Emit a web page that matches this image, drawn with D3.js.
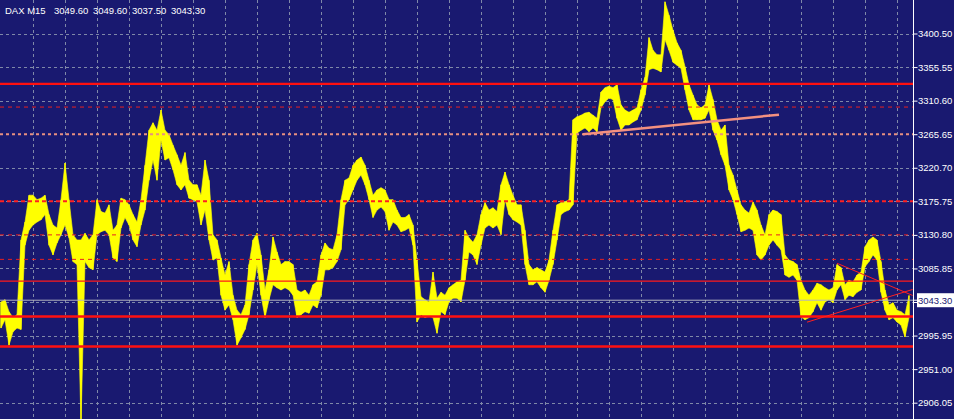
<!DOCTYPE html>
<html><head><meta charset="utf-8">
<script src="https://cdn.jsdelivr.net/npm/d3@7"></script>
<style>html,body{margin:0;padding:0;background:#191970;overflow:hidden}svg{display:block}</style>
</head><body>
<script>
// ---- data ----
const title = "DAX M15";
const ohlc = ["3049.60", "3049.60", "3037.50", "3043.30"];
const lastPrice = 3043.30;
const highs = [3041,3044,3028,3020,3024,3124,3148,3184,3184,3178,3180,3184,3158,3144,3140,3178,3227,3178,3131,3124,
3124,3133,3124,3131,3178,3162,3160,3171,3137,3144,3180,3178,3171,3158,3148,3178,3224,3271,3281,3271,
3298,3271,3265,3251,3238,3224,3241,3204,3198,3198,3184,3231,3204,3131,3124,3100,3077,3095,3050,3030,
3024,3037,3091,3124,3133,3104,3057,3084,3128,3108,3091,3095,3095,3091,3057,3054,3057,3050,3064,3068,
3104,3120,3113,3111,3131,3178,3204,3207,3224,3231,3235,3224,3204,3184,3191,3194,3191,3178,3178,3164,
3154,3154,3158,3144,3097,3048,3044,3041,3081,3046,3054,3050,3060,3064,3068,3070,3137,3127,3121,3131,
3158,3174,3164,3167,3162,3198,3215,3198,3184,3171,3171,3137,3091,3084,3087,3084,3081,3097,3137,3171,
3174,3175,3178,3285,3289,3291,3294,3295,3291,3287,3322,3328,3330,3328,3332,3305,3298,3295,3298,3301,
3325,3342,3395,3378,3372,3372,3443,3425,3405,3388,3378,3356,3332,3318,3305,3301,3305,3332,3312,3285,
3271,3278,3224,3211,3191,3171,3164,3160,3175,3164,3144,3131,3158,3164,3162,3158,3104,3097,3095,3091,
3070,3057,3050,3057,3066,3064,3060,3057,3060,3091,3087,3064,3070,3068,3077,3081,3115,3124,3128,3124,
3095,3057,3037,3040,3030,3028,3024,3049.6];
const lows = [3006,3017,2983,3001,3006,3004,3117,3137,3144,3148,3151,3158,3117,3104,3120,3131,3144,3127,3095,3091,
2870,3095,3087,3084,3131,3135,3137,3131,3100,3095,3140,3154,3144,3124,3115,3144,3164,3204,3231,3204,
3258,3231,3234,3218,3198,3191,3198,3180,3178,3175,3144,3164,3124,3097,3100,3050,3030,3037,3017,2983,
2993,3004,3024,3057,3091,3050,3020,3044,3064,3060,3057,3060,3057,3050,3020,3024,3028,3026,3037,3033,
3050,3084,3084,3087,3095,3111,3171,3178,3191,3204,3211,3198,3178,3154,3164,3168,3162,3137,3148,3144,
3135,3137,3140,3117,3014,3024,3020,3022,3020,2999,3028,3024,3041,3046,3046,3041,3070,3108,3104,3091,
3117,3140,3144,3140,3144,3131,3178,3158,3151,3148,3144,3091,3064,3064,3068,3060,3054,3070,3091,3124,
3158,3162,3164,3171,3267,3271,3274,3269,3274,3269,3301,3309,3314,3312,3287,3271,3278,3278,3282,3285,
3298,3318,3352,3354,3352,3349,3392,3378,3362,3358,3354,3325,3298,3285,3285,3285,3287,3298,3271,3258,
3238,3224,3191,3178,3158,3135,3137,3140,3137,3104,3097,3104,3117,3124,3117,3111,3077,3074,3077,3070,
3021,3017,3020,3028,3040,3030,3041,3044,3040,3057,3064,3044,3050,3048,3054,3057,3088,3095,3104,3097,
3054,3030,3017,3020,3014,3010,2994,3020];
const tickValues = [3400.50,3355.55,3310.60,3265.65,3220.70,3175.75,3130.80,3085.85,3040.90,2995.95,2951.00,2906.05];
const hiddenTicks = [3040.90];
const gridBars = [8,16,24,32,40,48,56,64,72,80,88,96,104,112,120,128,136,144,152,160,168,176,184,192,200,208,216,224];
const solidThick = [3333.0, 3021.5, 2981.4];
const solidThin = [3069.0];
const dashedRed = [3302.0, 3130.80, 3098.0];
const dashedRedBold = [3175.75];
const dashedSalmon = [3265.65];
const trendSalmon = [[145.5, 3265.5], [194.5, 3291.8]];
const trendRed = [ [[209, 3092.8], [227.9, 3049.7]], [[201.5, 3013.9], [227.9, 3057.7]] ];

// ---- drawing ----
const W = 954, H = 419, plotR = 913;
const FONT = "Liberation Sans, Arial, sans-serif";
const svg = d3.select("body").append("svg").attr("width", W).attr("height", H);
svg.append("rect").attr("width", W).attr("height", H).attr("fill", "#191970");

const x = d3.scaleLinear().domain([0, 228]).range([1, plotR]);
const y = d3.scaleLinear().domain([2906.05, 3400.50]).range([402.7, 33.5]);
const gridCol = "#7f88a8";

const grid = svg.append("g");
grid.selectAll(".vg").data(gridBars).join("line")
  .attr("x1", d => Math.round(x(d)) + 0.5).attr("x2", d => Math.round(x(d)) + 0.5)
  .attr("y1", 0).attr("y2", H).attr("stroke", gridCol).attr("stroke-dasharray", "3,3");
grid.selectAll(".hg").data(tickValues).join("line")
  .attr("x1", 0).attr("x2", plotR)
  .attr("y1", d => Math.round(y(d)) + 0.5).attr("y2", d => Math.round(y(d)) + 0.5)
  .attr("stroke", gridCol).attr("stroke-dasharray", "3,3");

// price bars
const bars = highs.map((h, i) => ({i, h, l: lows[i]}));
const pg = svg.append("g");
pg.append("path").datum(bars)
  .attr("d", d3.area().x(d => x(d.i)).y0(d => Math.min(y(d.l), H + 5)).y1(d => y(d.h)))
  .attr("fill", "#ffff00").attr("stroke", "#ffff00").attr("stroke-width", 0.6);
pg.selectAll("line").data(bars).join("line")
  .attr("x1", d => x(d.i)).attr("x2", d => x(d.i))
  .attr("y1", d => y(d.h)).attr("y2", d => Math.min(y(d.l), H + 5))
  .attr("stroke", "#ffff00").attr("stroke-width", 1.2);

// horizontal objects
const hl = (vals, col, w, dash) => svg.append("g").selectAll("line").data(vals).join("line")
  .attr("x1", 0).attr("x2", plotR)
  .attr("y1", d => y(d)).attr("y2", d => y(d))
  .attr("stroke", col).attr("stroke-width", w).attr("stroke-dasharray", dash);
hl([lastPrice], "#b4b4c0", 1, null);
hl(dashedSalmon, "#e89080", 2, "3,3");
hl(dashedRed, "#e82020", 1, "4,4");
hl(dashedRedBold, "#ff2020", 2, "4,3");
hl(solidThin, "#ff1a1a", 1.2, null);
hl(solidThick, "#ff1010", 2.4, null);

// trend lines
const tl = d3.line().x(d => x(d[0])).y(d => y(d[1]));
svg.append("path").datum(trendSalmon).attr("d", tl).attr("stroke", "#f49080").attr("stroke-width", 2.5).attr("fill", "none");
svg.append("g").selectAll("path").data(trendRed).join("path").attr("d", tl)
  .attr("stroke", "#ff2020").attr("stroke-width", 1).attr("fill", "none");

// right axis area
svg.append("rect").attr("x", plotR + 1).attr("y", 0).attr("width", W - plotR).attr("height", H).attr("fill", "#191970");
const axis = d3.axisRight(y).tickValues(tickValues).tickSize(4).tickPadding(0.5)
  .tickFormat(d => hiddenTicks.includes(d) ? "" : d3.format(".2f")(d));
const ag = svg.append("g").attr("transform", `translate(${plotR + 0.5},0)`).call(axis);
ag.select(".domain").attr("stroke", "#ffffff").attr("d", `M0,0V${H}`);
ag.selectAll(".tick line").attr("stroke", "#ffffff");
ag.selectAll(".tick text").attr("fill", "#ffffff").attr("font-family", FONT).attr("font-size", "9.5px");

// current price label
const cy = y(lastPrice);
svg.append("line").attr("x1", plotR).attr("x2", plotR + 4).attr("y1", cy).attr("y2", cy).attr("stroke", "#fff");
svg.append("rect").attr("x", 917).attr("y", cy - 7).attr("width", 37).attr("height", 14).attr("fill", "#ffffff");
svg.append("text").attr("x", 918).attr("y", cy + 3.4).text(d3.format(".2f")(lastPrice))
  .attr("fill", "#191970").attr("font-family", FONT).attr("font-size", "9.5px");

// header
const hdr = [title].concat(ohlc);
const hx = [5, 54, 93, 132, 171];
svg.append("g").selectAll("text").data(hdr).join("text")
  .attr("x", (d, i) => hx[i]).attr("y", 14).text(d => d)
  .attr("fill", "#ffffff").attr("font-family", FONT).attr("font-size", "9.5px");
</script>
</body></html>
